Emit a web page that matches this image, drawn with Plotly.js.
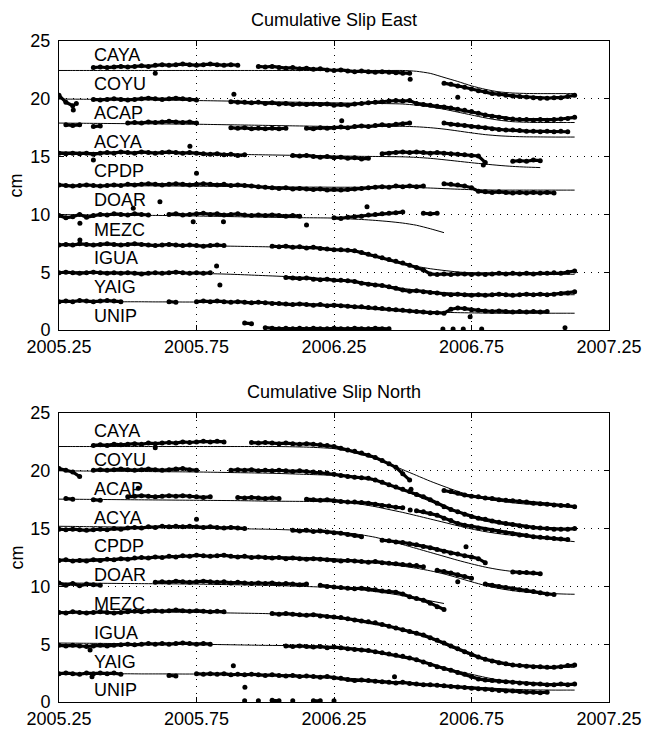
<!DOCTYPE html>
<html><head><meta charset="utf-8">
<script src="https://cdn.plot.ly/plotly-3.0.1.min.js"></script>
<style>html,body{margin:0;padding:0;background:#fff}</style>
</head><body><div id="chart" style="width:645px;height:730px"></div>
<script>
const _ = null;
const stations = ["CAYA","COYU","ACAP","ACYA","CPDP","DOAR","MEZC","IGUA","YAIG","UNIP"];
const xTicks = [2005.25, 2005.75, 2006.25, 2006.75, 2007.25];
const xTickText = ["2005.25","2005.75","2006.25","2006.75","2007.25"];
const yTicks = [0,5,10,15,20,25];
const labelX = 2005.37;
const labelE_y = [23.75,21.24,18.73,16.22,13.77,11.25,8.69,6.19,3.75,1.25];
const labelN_y = [23.45,20.95,18.45,15.95,13.5,11.0,8.5,5.95,3.5,1.0];

// observation times (years)
const T = [2005.25,2005.275,2005.3,2005.325,2005.35,2005.375,2005.4,2005.425,2005.45,2005.475,
2005.5,2005.525,2005.55,2005.575,2005.6,2005.625,2005.65,2005.675,2005.7,2005.725,
2005.75,2005.775,2005.8,2005.825,2005.85,2005.875,2005.9,2005.925,2005.95,2005.975,
2006,2006.025,2006.05,2006.075,2006.1,2006.125,2006.15,2006.175,2006.2,2006.225,
2006.25,2006.275,2006.3,2006.325,2006.35,2006.375,2006.4,2006.425,2006.45,2006.475,
2006.5,2006.525,2006.55,2006.575,2006.6,2006.625,2006.65,2006.675,2006.7,2006.725,
2006.75,2006.775,2006.8,2006.825,2006.85,2006.875,2006.9,2006.925,2006.95,2006.975,
2007,2007.025,2007.05,2007.075,2007.1,2007.125,2007.15];
// model times
const TM = [2005.25,2005.3,2005.35,2005.4,2005.45,2005.5,2005.55,2005.6,2005.65,2005.7,
2005.75,2005.8,2005.85,2005.9,2005.95,2006,2006.05,2006.1,2006.15,2006.2,
2006.25,2006.3,2006.35,2006.4,2006.45,2006.5,2006.55,2006.6,2006.65,2006.7,
2006.75,2006.8,2006.85,2006.9,2006.95,2007,2007.05,2007.1,2007.125];

// ---------- EAST observations ----------
const CAYA_E = [_,_,_,_,_,22.7,22.75,22.7,22.75,22.8,
22.75,22.8,22.85,22.8,22.9,22.95,22.9,22.95,23.0,22.95,
22.9,22.95,23.0,22.95,22.9,22.95,22.9,_,_,22.8,
22.75,22.8,22.7,22.65,22.7,22.6,22.65,22.55,22.6,22.5,
22.45,22.5,22.4,22.35,22.4,22.35,22.3,22.35,22.3,22.25,
22.2,22.2,_,_,_,_,21.35,21.25,21.1,21.0,
20.85,20.7,20.6,20.45,20.4,20.3,20.25,20.2,20.15,20.1,
20.05,20.05,20.1,20.1,20.2,20.3,_];
const COYU_E = [20.3,19.7,19.4,_,_,19.95,19.9,19.95,20.0,19.95,
19.9,19.95,20.0,20.05,20.0,19.95,20.0,20.05,20.0,19.95,
19.9,_,_,_,_,19.75,19.7,19.7,19.65,19.7,
19.6,19.65,19.55,19.6,19.5,19.55,19.5,19.55,19.5,19.55,
19.45,19.5,19.45,19.55,19.6,19.65,19.7,19.75,19.8,19.85,
19.8,19.85,19.6,19.5,19.45,19.35,19.3,19.2,19.1,19.0,
18.9,18.75,18.6,18.5,18.4,18.3,18.25,18.2,18.2,18.15,
18.2,18.15,18.2,18.25,18.3,18.4,_];
const ACAP_E = [_,17.75,17.7,17.75,_,17.6,17.65,_,_,_,
17.9,17.95,17.9,18.0,17.95,18.0,18.05,18.0,17.95,18.0,
17.9,_,_,_,_,17.5,17.45,17.5,17.4,17.45,
17.4,17.45,17.4,17.45,_,_,17.45,17.4,17.5,17.45,
17.5,17.55,17.5,17.6,17.65,17.6,17.7,17.75,17.7,17.8,
17.85,17.9,_,_,_,_,17.9,17.8,17.75,17.7,
17.6,17.55,17.5,17.4,17.35,17.3,17.3,17.25,17.2,17.2,
17.15,17.2,17.15,17.2,17.15,_,_];
const ACYA_E = [15.3,15.25,15.3,15.25,15.3,15.2,15.3,15.35,15.3,15.4,
15.35,15.3,15.4,15.35,15.3,15.35,15.4,15.35,15.3,15.35,
15.3,15.25,15.2,15.25,15.15,15.2,15.1,15.15,_,_,
_,_,_,_,15.1,15.05,15.1,15.0,14.95,15.0,
14.9,14.95,14.85,14.9,14.8,14.85,_,15.25,15.3,15.35,
15.4,15.35,15.4,15.35,15.3,15.35,15.3,15.25,15.2,15.15,
15.1,15.05,14.5,_,_,_,14.6,14.65,14.6,14.7,
14.65,_,_,_,_,_,_];
const CPDP_E = [12.55,12.5,12.45,12.5,12.55,12.5,12.45,12.5,12.55,12.5,
12.6,12.55,12.6,12.65,12.6,12.55,12.6,12.65,12.6,12.55,
12.6,12.65,12.6,12.55,12.6,12.5,12.55,12.5,12.45,12.4,
12.35,12.3,12.25,12.3,12.2,12.25,12.2,12.15,12.2,12.1,
12.15,12.1,12.15,12.2,12.25,12.3,12.35,12.4,12.35,12.45,
12.4,12.45,12.4,12.45,_,_,12.65,12.6,12.55,12.45,
12.3,12.0,11.95,11.9,11.95,11.9,11.85,11.9,11.85,11.9,
11.85,11.9,11.85,_,_,_,_];
const DOAR_E = [9.9,9.7,9.8,10.0,9.75,9.9,10.0,9.95,10.05,10.0,
9.95,10.05,10.0,9.95,_,_,10.0,10.05,9.95,10.0,
10.05,10.1,10.0,10.05,9.95,10.0,10.05,9.95,9.9,9.95,
9.9,9.95,9.9,9.85,9.9,9.85,_,_,_,_,
9.7,9.65,9.75,9.8,9.85,9.95,10.0,10.05,10.1,10.15,
10.2,_,_,10.1,10.05,10.1,_,_,_,_,
_,_,_,_,_,_,_,_,_,_,
_,_,_,_,_,_,_];
const MEZC_E = [7.35,7.4,7.35,7.45,7.4,7.35,7.4,7.45,7.4,7.35,
7.4,7.45,7.4,7.35,7.3,7.35,7.4,7.35,7.3,7.35,
7.3,7.25,7.3,7.35,7.3,_,_,_,_,_,
_,7.25,7.2,7.25,7.15,7.2,7.1,7.15,7.05,7.0,
6.95,6.95,6.9,6.85,6.7,6.55,6.4,6.25,6.1,5.95,
5.8,5.6,5.4,5.2,4.85,4.8,4.85,4.8,4.85,4.85,
4.8,4.85,4.8,4.85,4.9,4.85,4.9,4.85,4.9,4.85,
4.9,4.9,4.95,4.9,5.0,5.1,_];
const IGUA_E = [4.95,5.0,4.95,4.9,4.95,5.0,4.95,4.9,4.95,4.9,
4.95,4.9,4.85,4.9,4.95,4.9,4.95,5.0,4.95,4.9,
4.95,4.9,4.95,_,_,_,_,_,_,_,
_,_,_,4.55,4.5,4.45,4.5,4.4,4.35,4.4,
4.3,4.3,4.25,4.2,4.05,3.95,3.9,3.85,3.75,3.6,
3.45,3.35,3.4,3.3,3.25,3.2,3.1,3.05,3.1,3.05,
3.0,3.05,3.0,3.05,3.1,3.05,3.0,3.05,3.1,3.05,
3.1,3.05,3.1,3.15,3.2,3.3,_];
const YAIG_E = [2.45,2.5,2.45,2.55,2.5,2.45,2.5,2.55,2.5,2.45,
_,_,_,_,_,_,2.45,2.4,_,_,
2.45,2.5,2.45,2.5,2.45,2.4,2.45,2.4,2.35,2.4,
2.35,2.3,2.3,2.25,2.2,2.25,2.2,2.15,2.2,2.1,
2.15,2.1,2.05,2.0,2.0,1.95,1.9,1.85,1.8,1.75,
1.7,1.65,1.6,1.55,1.5,1.5,1.45,1.8,1.9,1.85,
1.75,1.7,1.65,1.6,1.65,1.6,1.55,1.6,1.55,1.6,
1.55,1.6,_,_,_,_,_];
const UNIP_E = [_,_,_,_,_,_,_,_,_,_,
_,_,_,_,_,_,_,_,_,_,
_,_,_,_,_,_,_,0.6,0.55,_,
0.2,0.15,0.1,0.15,0.1,0.15,0.1,0.15,0.1,0.1,
0.15,0.1,0.1,0.15,0.1,0.1,0.15,0.1,0.1,_,
_,_,_,_,_,_,_,_,_,_,
_,_,_,_,_,_,_,_,_,_,
_,_,_,_,_,_,_];

// ---------- EAST models ----------
const CAYA_Em = [22.45,22.45,22.45,22.45,22.45,22.45,22.45,22.45,22.45,22.45,
22.45,22.45,22.45,22.45,22.45,22.45,22.45,22.45,22.45,22.45,
22.45,22.45,22.45,22.45,22.45,22.45,22.38,22.2,21.85,21.5,
21.12,20.82,20.6,20.5,20.46,20.45,20.45,20.45,20.45];
const COYU_Em = [19.98,19.97,19.96,19.95,19.94,19.92,19.91,19.9,19.88,19.87,
19.85,19.83,19.81,19.79,19.77,19.75,19.73,19.71,19.69,19.67,
19.65,19.63,19.62,19.6,19.58,19.55,19.45,19.3,19.1,18.85,
18.6,18.35,18.15,18.02,17.97,17.95,17.95,17.95,17.95];
const ACAP_Em = [17.9,17.89,17.88,17.87,17.86,17.85,17.84,17.83,17.82,17.81,
17.8,17.78,17.76,17.74,17.72,17.7,17.68,17.66,17.64,17.62,
17.6,17.6,17.61,17.62,17.62,17.62,17.58,17.5,17.38,17.22,
17.05,16.9,16.8,16.74,16.71,16.7,16.69,16.69,16.69];
const ACYA_Em = [15.4,15.38,15.36,15.35,15.33,15.32,15.3,15.29,15.27,15.26,
15.25,15.23,15.21,15.19,15.17,15.15,15.13,15.11,15.09,15.07,
15.05,15.04,15.02,15.01,15.0,14.98,14.93,14.85,14.73,14.6,
14.47,14.35,14.24,14.15,14.09,14.05,_,_,_];
const CPDP_Em = [12.52,12.51,12.5,12.5,12.49,12.48,12.47,12.47,12.46,12.45,
12.44,12.43,12.42,12.41,12.4,12.39,12.38,12.37,12.36,12.36,
12.35,12.35,12.35,12.35,12.35,12.34,12.32,12.28,12.23,12.18,
12.14,12.12,12.1,12.1,12.1,12.1,12.1,12.1,12.1];
const DOAR_Em = [9.98,9.97,9.96,9.95,9.94,9.93,9.92,9.91,9.9,9.88,
9.86,9.84,9.82,9.8,9.78,9.76,9.74,9.72,9.71,9.7,
9.68,9.62,9.56,9.48,9.38,9.25,9.06,8.76,8.42,_,
_,_,_,_,_,_,_,_,_];
const MEZC_Em = [7.4,7.4,7.39,7.38,7.37,7.36,7.35,7.34,7.32,7.3,
7.28,7.27,7.26,7.24,7.22,7.2,7.17,7.14,7.1,7.04,
6.97,6.85,6.62,6.32,6.02,5.74,5.5,5.3,5.15,5.02,
4.93,4.87,4.84,4.82,4.82,4.82,4.82,4.82,4.82];
const IGUA_Em = [5.05,5.04,5.03,5.02,5.01,5.0,4.99,4.97,4.95,4.93,
4.9,4.87,4.84,4.8,4.75,4.7,4.65,4.6,4.53,4.45,
4.37,4.25,4.1,3.95,3.8,3.6,3.45,3.33,3.24,3.17,
3.13,3.09,3.07,3.05,3.05,3.05,3.05,3.05,3.05];
const YAIG_Em = [2.45,2.45,2.45,2.45,2.44,2.44,2.44,2.43,2.43,2.42,
2.42,2.41,2.4,2.39,2.37,2.35,2.32,2.29,2.25,2.2,
2.15,2.08,2.0,1.92,1.83,1.75,1.66,1.58,1.53,1.5,
1.48,1.46,1.45,1.45,1.45,1.45,1.45,1.45,1.45];

// ---------- NORTH observations ----------
const CAYA_N = [_,_,_,_,_,22.2,22.25,22.2,22.3,22.25,
22.3,22.35,22.3,22.4,22.35,22.4,22.45,22.4,22.5,22.45,
22.5,22.55,22.5,22.55,22.5,_,_,_,22.45,22.4,
22.45,22.4,22.35,22.4,22.35,22.3,22.35,22.3,22.25,22.2,
22.1,21.95,21.8,21.7,21.55,21.35,21.15,20.9,20.6,20.3,
19.75,19.2,_,_,_,_,18.3,18.2,18.05,17.9,
17.8,17.75,17.65,17.6,17.5,17.45,17.4,17.35,17.3,17.2,
17.15,17.1,17.05,17.0,17.0,16.9,_];
const COYU_N = [20.2,20.05,19.9,19.5,_,20.05,20.1,20.05,20.1,20.15,
20.1,20.05,20.1,20.15,20.1,20.05,20.1,20.15,20.2,20.1,
20.05,_,_,_,_,20.05,20.1,20.05,20.1,20.0,
20.05,20.0,20.05,20.0,19.95,20.0,19.95,19.9,19.85,19.8,
19.7,19.6,19.5,19.45,19.4,19.35,19.2,19.0,18.8,18.6,
18.4,18.2,17.95,17.75,17.5,17.2,16.9,16.65,16.45,16.25,
16.05,15.9,15.8,15.65,15.55,15.45,15.35,15.25,15.15,15.1,
15.05,15.0,14.95,14.95,14.95,15.0,_];
const ACAP_N = [_,17.6,17.55,_,_,17.5,17.45,_,_,_,
17.75,17.8,17.85,17.8,17.75,17.8,17.85,17.8,17.85,17.8,
17.75,17.7,17.75,_,_,_,17.7,17.65,17.7,17.65,
17.6,17.65,17.6,_,_,_,17.55,17.5,17.45,17.5,
17.4,17.35,17.3,17.3,17.25,17.2,17.1,17.0,16.95,16.85,
16.8,_,16.55,16.45,16.3,16.15,15.9,15.7,15.45,15.3,
15.2,15.05,14.95,14.85,14.75,14.65,14.55,14.45,14.4,14.3,
14.25,14.2,14.15,14.1,14.05,_,_];
const ACYA_N = [14.95,14.9,14.95,14.9,14.85,14.9,14.95,14.9,15.0,14.95,
15.05,15.1,15.05,15.15,15.1,15.2,15.15,15.2,15.15,15.2,
15.15,15.1,15.15,15.1,15.05,15.1,15.05,15.0,_,_,
_,_,_,_,14.85,14.8,14.85,14.75,14.8,14.7,
14.65,14.6,14.5,14.4,14.3,_,_,14.0,13.95,13.85,
13.8,13.7,13.6,13.45,13.35,13.2,13.05,12.9,12.8,12.65,
12.55,12.4,12.05,_,_,_,11.25,11.2,11.2,11.15,
11.1,_,_,_,_,_,_];
const CPDP_N = [12.25,12.3,12.2,12.25,12.2,12.3,12.25,12.35,12.3,12.4,
12.35,12.45,12.5,12.45,12.55,12.5,12.6,12.55,12.65,12.6,
12.7,12.65,12.6,12.65,12.7,12.6,12.55,12.6,12.5,12.55,
12.5,12.45,12.5,12.4,12.45,12.4,12.35,12.4,12.35,12.3,
12.25,12.2,12.25,12.2,12.15,12.1,12.15,12.05,12.0,11.95,
11.9,11.85,11.8,11.7,_,11.4,11.3,11.15,11.0,10.85,
10.7,_,10.2,10.1,10.0,9.9,9.8,9.7,9.65,9.55,
9.45,9.35,9.3,_,_,_,_];
const DOAR_N = [10.3,10.1,10.25,10.05,10.2,10.15,10.1,_,_,_,
_,_,_,_,10.35,10.4,10.35,10.45,10.4,10.35,
10.4,10.45,10.4,10.35,10.4,10.3,10.35,10.3,10.25,10.3,
10.25,10.3,10.2,10.25,10.2,10.15,10.2,_,10.1,10.0,
9.95,9.9,9.85,9.8,9.85,9.75,9.7,9.6,9.55,9.5,
9.35,9.1,8.95,8.8,8.55,8.25,8.0,_,_,_,
_,_,_,_,_,_,_,_,_,_,
_,_,_,_,_,_,_];
const MEZC_N = [7.75,7.7,7.8,7.75,7.7,7.75,7.8,7.75,7.7,7.75,
7.8,7.85,7.8,7.85,7.9,7.85,7.9,7.95,7.9,7.85,
7.9,7.85,7.8,7.85,7.8,_,_,_,_,_,
_,7.65,7.6,7.65,7.6,7.55,7.5,7.55,7.45,7.4,
7.35,7.3,7.2,7.1,7.0,6.95,6.85,6.7,6.55,6.4,
6.25,6.1,5.95,5.8,5.55,5.35,5.1,4.85,4.6,4.35,
4.1,3.9,3.7,3.55,3.4,3.3,3.2,3.15,3.1,3.05,
3.05,3.0,3.0,3.05,3.15,3.2,_];
const IGUA_N = [4.9,4.85,4.9,4.85,4.8,4.85,4.9,4.85,4.9,4.95,
5.0,4.95,5.0,5.05,5.0,5.05,5.0,5.05,5.1,5.05,
5.0,5.05,5.0,_,_,_,_,_,_,_,
_,_,_,4.85,4.8,4.85,4.8,4.75,4.8,4.7,
4.75,4.7,4.6,4.55,4.5,4.45,4.35,4.25,4.15,4.05,
3.95,3.8,3.65,3.45,3.25,3.05,2.9,2.75,2.55,2.4,
2.2,2.0,1.9,1.85,1.8,1.75,1.7,1.65,1.6,1.55,
1.55,1.5,1.5,1.55,1.5,1.55,_];
const YAIG_N = [2.45,2.5,2.45,2.4,2.5,2.45,2.5,2.45,2.5,2.4,
_,_,_,_,_,_,2.3,2.25,_,_,
2.45,2.4,2.45,2.4,2.45,2.35,2.4,2.35,2.4,2.35,
2.3,2.35,2.3,2.25,2.3,2.2,2.25,2.2,2.15,2.2,
2.1,2.05,1.95,1.85,1.9,1.85,1.8,1.75,1.7,1.65,
1.7,1.6,1.55,1.5,1.5,1.45,1.4,1.35,1.3,1.25,
1.2,1.15,1.1,1.05,1.0,0.95,0.95,0.9,0.85,0.85,
0.8,0.85,_,_,_,_,_];
const UNIP_N = [_,_,_,_,_,_,_,_,_,_,
_,_,_,_,_,_,_,_,_,_,
_,_,_,_,_,_,_,0.1,_,0.1,
_,0.15,0.1,_,0.1,_,_,0.1,0.1,_,
0.1,_,_,_,_,_,_,_,_,_,
_,_,_,_,_,_,_,_,_,_,
_,_,_,_,_,_,_,_,_,_,
_,_,_,_,_,_,_];

// ---------- NORTH models ----------
const CAYA_Nm = [22.1,22.1,22.1,22.1,22.1,22.1,22.1,22.1,22.1,22.1,
22.1,22.1,22.1,22.1,22.1,22.1,22.1,22.08,22.05,22.0,
21.92,21.7,21.4,21.05,20.6,20.1,19.6,19.1,18.65,18.22,
17.85,17.58,17.38,17.23,17.12,17.05,17.0,16.97,16.96];
const COYU_Nm = [20.0,19.99,19.98,19.97,19.96,19.95,19.94,19.93,19.92,19.91,
19.9,19.88,19.86,19.84,19.82,19.8,19.77,19.73,19.69,19.65,
19.6,19.5,19.35,19.15,18.8,18.35,17.85,17.35,16.85,16.4,
15.95,15.65,15.42,15.25,15.12,15.03,14.98,14.95,14.94];
const ACAP_Nm = [17.55,17.54,17.53,17.52,17.51,17.5,17.49,17.48,17.47,17.46,
17.45,17.44,17.43,17.42,17.4,17.38,17.37,17.36,17.35,17.34,
17.32,17.25,17.1,16.9,16.65,16.4,16.12,15.83,15.54,15.25,
14.97,14.74,14.56,14.42,14.3,14.18,14.06,13.93,13.87];
const ACYA_Nm = [15.2,15.19,15.17,15.16,15.14,15.13,15.11,15.1,15.08,15.07,
15.05,15.03,15.01,14.99,14.97,14.95,14.92,14.88,14.84,14.8,
14.75,14.62,14.46,14.25,13.95,13.62,13.28,12.94,12.6,12.26,
11.95,11.67,11.45,11.29,11.19,11.13,_,_,_];
const CPDP_Nm = [12.3,12.33,12.36,12.39,12.42,12.45,12.48,12.51,12.54,12.57,
12.59,12.6,12.61,12.61,12.6,12.59,12.57,12.54,12.5,12.45,
12.4,12.3,12.18,12.05,11.9,11.75,11.57,11.35,11.08,10.75,
10.4,10.08,9.82,9.63,9.5,9.42,9.37,9.33,9.32];
const DOAR_Nm = [10.3,10.29,10.28,10.27,10.26,10.25,10.24,10.23,10.22,10.21,
10.2,10.18,10.16,10.14,10.12,10.1,10.07,10.03,9.99,9.95,
9.9,9.82,9.7,9.55,9.39,9.2,8.99,8.75,8.52,_,
_,_,_,_,_,_,_,_,_];
const MEZC_Nm = [7.8,7.8,7.8,7.8,7.79,7.79,7.78,7.78,7.77,7.76,
7.75,7.73,7.71,7.69,7.67,7.65,7.6,7.55,7.5,7.45,
7.4,7.25,7.05,6.78,6.5,6.18,5.85,5.45,4.98,4.48,
4.02,3.62,3.33,3.16,3.08,3.04,3.02,3.0,3.0];
const IGUA_Nm = [5.1,5.09,5.08,5.07,5.06,5.05,5.04,5.03,5.02,5.01,
5.0,4.98,4.96,4.94,4.92,4.9,4.89,4.87,4.85,4.83,
4.8,4.7,4.55,4.35,4.12,3.88,3.6,3.3,2.98,2.68,
2.4,2.13,1.9,1.73,1.63,1.56,1.52,1.48,1.47];
const YAIG_Nm = [2.45,2.45,2.45,2.44,2.44,2.44,2.43,2.43,2.43,2.42,
2.42,2.41,2.41,2.4,2.39,2.38,2.36,2.33,2.28,2.22,
2.15,2.06,1.97,1.88,1.79,1.7,1.61,1.52,1.44,1.37,
1.3,1.23,1.16,1.1,1.06,1.04,1.03,1.03,1.03];

// isolated outlying observations
const outE_t = [2005.60,2006.527,2006.70,2005.302,2005.313,2005.886,2006.278,2005.375,2005.726,2006.793,2005.75,2005.617,2005.52,2005.326,2005.738,2005.848,2006.15,2006.37,2005.326,2005.823,2005.835,2006.745,2006.646,2006.683,2006.72,2006.787,2007.09];
const outE_v = [22.2,21.69,20.13,19.03,19.6,20.39,18.1,14.7,15.9,14.27,13.55,11.1,10.53,9.23,9.37,9.37,9.08,10.67,7.79,5.54,3.9,1.15,0.08,0.08,0.08,0.08,0.2];
const outN_t = [2005.60,2006.53,2005.538,2006.527,2005.75,2006.73,2006.70,2005.363,2005.37,2005.884,2005.926,2006.47];
const outN_v = [22.0,18.4,18.49,16.6,15.8,13.43,10.4,4.5,2.19,3.14,1.27,2.19];

const obsE = [CAYA_E,COYU_E,ACAP_E,ACYA_E,CPDP_E,DOAR_E,MEZC_E,IGUA_E,YAIG_E,UNIP_E];
const obsN = [CAYA_N,COYU_N,ACAP_N,ACYA_N,CPDP_N,DOAR_N,MEZC_N,IGUA_N,YAIG_N,UNIP_N];
const modE = [CAYA_Em,COYU_Em,ACAP_Em,ACYA_Em,CPDP_Em,DOAR_Em,MEZC_Em,IGUA_Em,YAIG_Em];
const modN = [CAYA_Nm,COYU_Nm,ACAP_Nm,ACYA_Nm,CPDP_Nm,DOAR_Nm,MEZC_Nm,IGUA_Nm,YAIG_Nm];

const traces = [];
function obsTrace(y, xa, ya) {
  return {x: T, y: y, xaxis: xa, yaxis: ya, type: 'scatter', mode: 'lines+markers',
    connectgaps: false, line: {color: '#000', width: 3.2}, marker: {color: '#000', size: 5},
    hoverinfo: 'skip', showlegend: false};
}
function modTrace(y, xa, ya) {
  return {x: TM, y: y, xaxis: xa, yaxis: ya, type: 'scatter', mode: 'lines',
    connectgaps: false, line: {color: '#000', width: 1, shape: 'spline', smoothing: 0.6},
    hoverinfo: 'skip', showlegend: false};
}
obsE.forEach(a => traces.push(obsTrace(a, 'x', 'y')));
obsN.forEach(a => traces.push(obsTrace(a, 'x2', 'y2')));
traces.push({x: outE_t, y: outE_v, xaxis: 'x', yaxis: 'y', type: 'scatter', mode: 'markers',
  marker: {color: '#000', size: 5}, hoverinfo: 'skip', showlegend: false});
traces.push({x: outN_t, y: outN_v, xaxis: 'x2', yaxis: 'y2', type: 'scatter', mode: 'markers',
  marker: {color: '#000', size: 5}, hoverinfo: 'skip', showlegend: false});
modE.forEach(a => traces.push(modTrace(a, 'x', 'y')));
modN.forEach(a => traces.push(modTrace(a, 'x2', 'y2')));

const FONT = '"Liberation Sans", Arial, Helvetica, sans-serif';
function xAxis(anchor) {
  return {anchor: anchor, domain: [0, 1], range: [2005.25, 2007.25], tickmode: 'array',
    tickvals: xTicks, ticktext: xTickText, ticks: 'inside', ticklen: 5, tickcolor: '#000',
    showline: true, linecolor: '#000', linewidth: 1, mirror: 'ticks',
    showgrid: true, gridcolor: '#000', gridwidth: 1, griddash: '1px,6px',
    zeroline: false, ticklabelstandoff: 0, tickfont: {size: 18, color: '#000', family: FONT}};
}
function yAxis(anchor, dom) {
  return {anchor: anchor, domain: dom, range: [0, 25], tickmode: 'array', tickvals: yTicks,
    ticks: 'inside', ticklen: 5, tickcolor: '#000',
    showline: true, linecolor: '#000', linewidth: 1, mirror: 'ticks',
    showgrid: true, gridcolor: '#000', gridwidth: 1, griddash: '1px,6px',
    zeroline: false, ticklabelstandoff: 4, tickfont: {size: 18, color: '#000', family: FONT}};
}
const annotations = [];
stations.forEach((s, i) => {
  annotations.push({text: s, x: labelX, y: labelE_y[i], xref: 'x', yref: 'y', showarrow: false,
    xanchor: 'left', yanchor: 'middle', font: {size: 18, color: '#000', family: FONT}});
  annotations.push({text: s, x: labelX, y: labelN_y[i], xref: 'x2', yref: 'y2', showarrow: false,
    xanchor: 'left', yanchor: 'middle', font: {size: 18, color: '#000', family: FONT}});
});
annotations.push({text: 'Cumulative Slip East', xref: 'paper', yref: 'paper', x: 0.5, y: 1.0318,
  showarrow: false, xanchor: 'center', yanchor: 'middle', font: {size: 18, color: '#000', family: FONT}});
annotations.push({text: 'Cumulative Slip North', xref: 'paper', yref: 'paper', x: 0.5, y: 0.469,
  showarrow: false, xanchor: 'center', yanchor: 'middle', font: {size: 18, color: '#000', family: FONT}});
annotations.push({text: 'cm', xref: 'paper', yref: 'paper', x: -0.0764, y: 0.7814, textangle: -90,
  showarrow: false, xanchor: 'center', yanchor: 'middle', font: {size: 18, color: '#000', family: FONT}});
annotations.push({text: 'cm', xref: 'paper', yref: 'paper', x: -0.0764, y: 0.2186, textangle: -90,
  showarrow: false, xanchor: 'center', yanchor: 'middle', font: {size: 18, color: '#000', family: FONT}});

const layout = {
  width: 645, height: 730, margin: {l: 59, r: 36, t: 41, b: 28, pad: 0},
  paper_bgcolor: '#fff', plot_bgcolor: '#fff', showlegend: false,
  font: {family: FONT, size: 18, color: '#000'},
  xaxis: xAxis('y'), yaxis: yAxis('x', [0.5628, 1]),
  xaxis2: xAxis('y2'), yaxis2: yAxis('x2', [0, 0.4372]),
  annotations: annotations
};
Plotly.newPlot('chart', traces, layout, {staticPlot: true, displayModeBar: false});
</script></body></html>
